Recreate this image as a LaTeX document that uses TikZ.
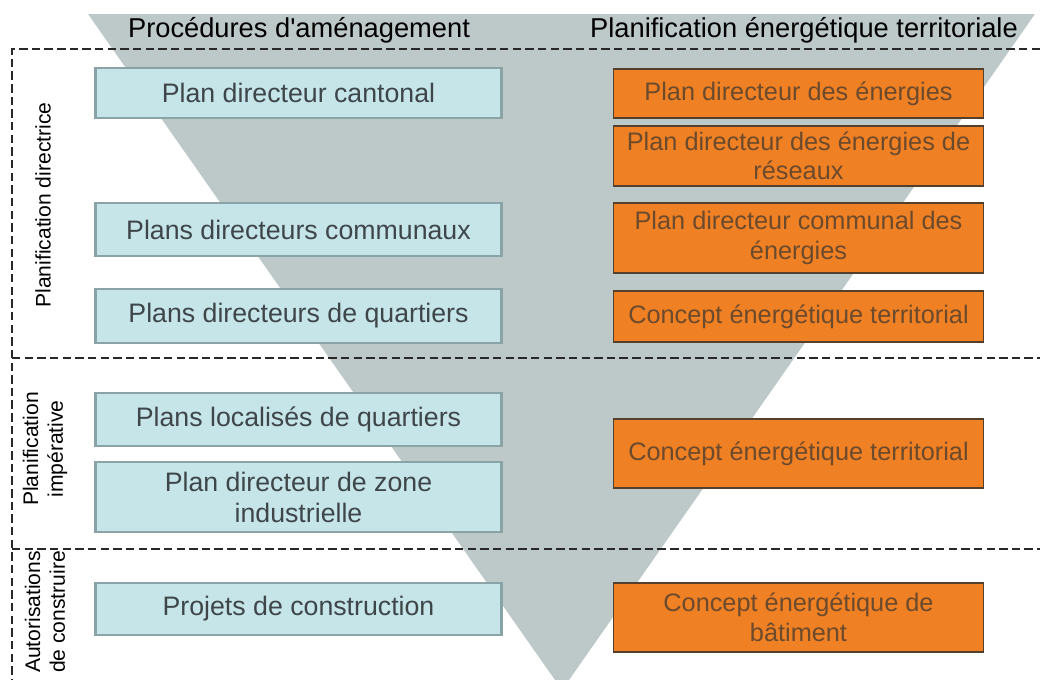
\documentclass[tikz,border=0pt]{standalone}
\usepackage{fontspec}
\setmainfont{Liberation Sans}
\usepackage{tikz}

\definecolor{funnel}{RGB}{189,200,201}
\definecolor{lfill}{RGB}{198,229,233}
\definecolor{ldraw}{RGB}{138,163,167}
\definecolor{ltext}{RGB}{62,70,74}
\definecolor{rfill}{RGB}{240,128,36}
\definecolor{rdraw}{RGB}{84,62,44}
\definecolor{rtext}{RGB}{108,74,44}
\definecolor{sep}{RGB}{40,40,40}

\tikzset{
  lbox/.style={draw=ldraw, fill=lfill, line width=1.8pt, text=ltext, align=center,
    minimum width=10.15cm, inner sep=0pt, font=\fontsize{19}{22}\selectfont},
  rbox/.style={draw=rdraw, fill=rfill, line width=0.8pt, text=rtext, align=center,
    minimum width=9.25cm, inner sep=0pt, font=\fontsize{18}{21}\selectfont},
  head/.style={font=\fontsize{19.4}{22}\selectfont, text=black},
  side/.style={rotate=90, align=center, font=\fontsize{15}{17.5}\selectfont, text=black},
  sepline/.style={draw=sep, line width=1.4pt, dash pattern=on 6pt off 3pt}
}

\begin{document}
\begin{tikzpicture}[x=0.025cm, y=-0.025cm]

    \useasboundingbox (0, 0) rectangle (1040, 679);

    \fill[funnel] (88, 14) -- (1035, 14) -- (562, 690) -- cycle;

    \draw[sepline] (1040, 49) -- (12, 49) -- (12, 679);
    \draw[sepline] (12, 358) -- (1040, 358);
    \draw[sepline] (12, 549) -- (1040, 549);

    \node[head] (proc) at (299, 30) {Procédures d\textquotesingle aménagement};
    \node[head] (planif) at (804, 30) {Planification énergétique territoriale};

    \node[side] (directrice) at (43, 205) {Planification directrice};
    \node[side] (imperative) at (45, 449) {Planification\\impérative};
    \node[side] (autoris) at (45, 612) {Autorisations\\de construire};

    \node[lbox, minimum height=1.25cm] (cantonal) at (298.5, 93) {Plan directeur cantonal};
    \node[lbox, minimum height=1.325cm] (communaux) at (298.5, 229.5) {Plans directeurs communaux};
    \node[lbox, minimum height=1.35cm] (quartiers) at (298.5, 316) {Plans directeurs de quartiers};
    \node[lbox, minimum height=1.325cm] (localises) at (298.5, 419.5) {Plans localisés de quartiers};
    \node[lbox, minimum height=1.75cm] (zone) at (298.5, 497) {Plan directeur de zone\\industrielle};
    \node[lbox, minimum height=1.3cm] (projets) at (298.5, 609) {Projets de construction};

    \node[rbox, minimum height=1.225cm] (energies) at (798.5, 93.5) {Plan directeur des énergies};
    \node[rbox, minimum height=1.5cm] (reseaux) at (798.5, 156) {Plan directeur des énergies de\\réseaux};
    \node[rbox, minimum height=1.75cm] (communal) at (798.5, 238) {Plan directeur communal des\\énergies};
    \node[rbox, minimum height=1.275cm] (cet) at (798.5, 316.5) {Concept énergétique territorial};
    \node[rbox, minimum height=1.725cm] (cetb) at (798.5, 453.5) {Concept énergétique territorial};
    \node[rbox, minimum height=1.725cm] (batiment) at (798.5, 617.5) {Concept énergétique de\\bâtiment};

\end{tikzpicture}
\end{document}
